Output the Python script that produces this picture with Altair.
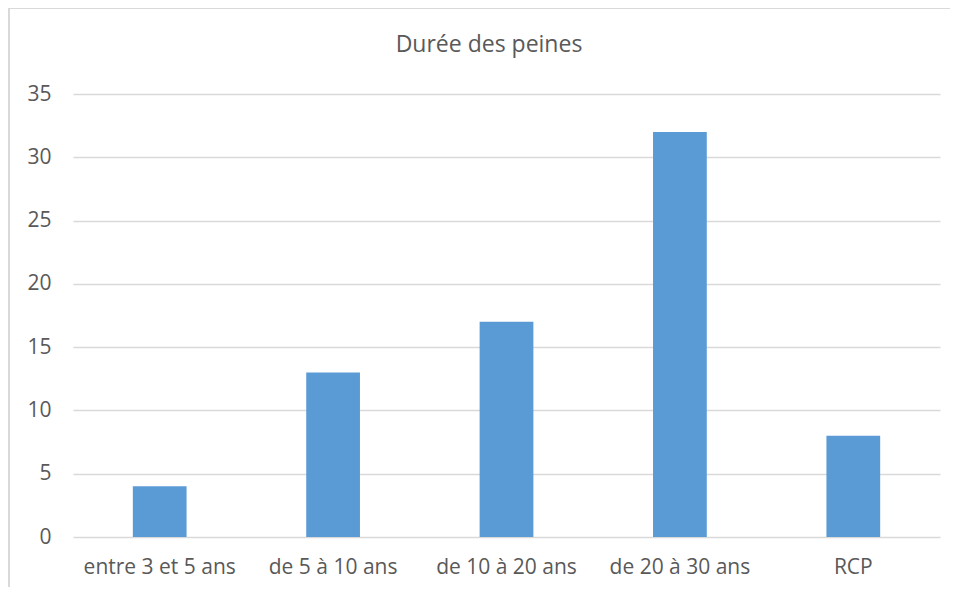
import altair as alt
import pandas as pd

categories = ["entre 3 et 5 ans", "de 5 à 10 ans", "de 10 à 20 ans", "de 20 à 30 ans", "RCP"]
values = [4, 13, 17, 32, 8]
title_text = ["Durée des peines"]

df = pd.DataFrame({"cat": categories, "val": values})
tdf = pd.DataFrame({"t": title_text})

W, H = 867, 443
PL, PT = 65, 86
FONT = "Open Sans"
GREY = "#595959"

bars = alt.Chart(df).mark_bar(color="#5b9bd5", width=alt.RelativeBandSize(0.31)).encode(
    x=alt.X("cat:N", sort=categories, title=None,
            scale=alt.Scale(paddingInner=0, paddingOuter=0),
            axis=alt.Axis(labelAngle=0, ticks=False, domain=False, labelPadding=19,
                          labelFontSize=21, labelColor=GREY, labelFont=FONT)),
    y=alt.Y("val:Q", title=None,
            scale=alt.Scale(domain=[0, 35], nice=False),
            axis=alt.Axis(values=[0, 5, 10, 15, 20, 25, 30, 35], ticks=False, domain=False,
                          labelPadding=22, labelFontSize=21, labelColor=GREY,
                          labelFont=FONT, gridColor="#d9d9d9", gridWidth=1.5)),
)

border = alt.Chart(df).mark_rect(fill=None, stroke="#d9d9d9", strokeWidth=1.5).encode(
    x=alt.value(-64), x2=alt.value(W + 40), y=alt.value(-86), y2=alt.value(H + 70)
)

title = alt.Chart(tdf).mark_text(font=FONT, fontSize=23, color=GREY, baseline="middle",
                                 align="center").encode(
    text="t:N", x=alt.value(489 - 73), y=alt.value(45 - 94)
)

chart = alt.layer(border, bars, title).properties(
    width=W, height=H,
    autosize=alt.AutoSizeParams(type="none"),
    padding={"left": PL, "top": PT, "right": 10, "bottom": 50},
).configure_view(stroke=None).configure_axisX(grid=False)

chart.save("out.html", embed_options={"renderer": "svg", "actions": False})
